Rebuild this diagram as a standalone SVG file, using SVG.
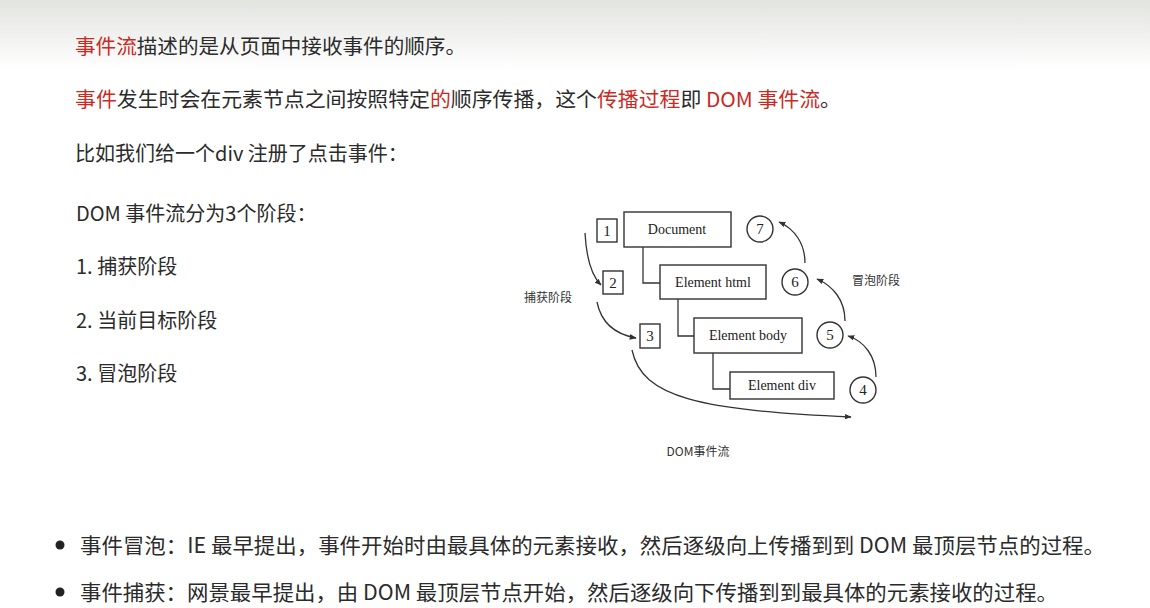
<svg xmlns="http://www.w3.org/2000/svg" width="1150" height="608" viewBox="0 0 1150 608">
<defs>
<linearGradient id="bg" x1="0" y1="0" x2="0" y2="1">
<stop offset="0" stop-color="#e2e4e0"/>
<stop offset="1" stop-color="#ffffff"/>
</linearGradient>
<marker id="ah" viewBox="0 0 10 10" refX="9" refY="5" markerWidth="7" markerHeight="7" markerUnits="userSpaceOnUse" orient="auto">
<path d="M0,1 L10,5 L0,9 Z" fill="#333"/>
</marker>
<style>
.t{font-family:"Noto Sans CJK SC","Noto Sans",sans-serif;font-size:20px;fill:#2b2b2b}
.r{fill:#cc2a1f}
.b{font-family:"Noto Sans CJK SC","Noto Sans",sans-serif;font-size:21px;fill:#2b2b2b}
.box{fill:#fff;stroke:#333;stroke-width:1.4}
.lbl{font-family:"Liberation Serif",serif;font-size:14px;fill:#222;text-anchor:middle}
.num{font-family:"Liberation Serif",serif;font-size:15px;fill:#222;text-anchor:middle}
.tree{fill:none;stroke:#333;stroke-width:1.3}
.arr{fill:none;stroke:#333;stroke-width:1.3;marker-end:url(#ah)}
.cap{font-family:"Noto Sans CJK SC",sans-serif;font-size:12px;fill:#333;text-anchor:middle}
</style>
</defs>
<rect x="0" y="0" width="1150" height="608" fill="#fff"/>
<rect x="0" y="0" width="1150" height="70" fill="url(#bg)"/>

<g id="text-intro">
<text class="t" x="75" y="54" textLength="391" lengthAdjust="spacingAndGlyphs"><tspan class="r">事件流</tspan>描述的是从页面中接收事件的顺序。</text>
<text class="t" x="75" y="107" textLength="766" lengthAdjust="spacingAndGlyphs"><tspan class="r">事件</tspan>发生时会在元素节点之间按照特定<tspan class="r">的</tspan>顺序传播，这个<tspan class="r">传播过程</tspan>即 <tspan class="r">DOM 事件流</tspan>。</text>
<text class="t" x="75" y="161">比如我们给一个div 注册了点击事件：</text>
<text class="t" x="76" y="221">DOM 事件流分为3个阶段：</text>
<text class="t" x="76" y="274">1. 捕获阶段</text>
<text class="t" x="76" y="328">2. 当前目标阶段</text>
<text class="t" x="76" y="381">3. 冒泡阶段</text>
</g>

<g id="connectors">
<path class="tree" d="M643,247 V283 H660"/>
<path class="tree" d="M678,299 V336 H694"/>
<path class="tree" d="M713,353 V389 H730"/>
<path class="arr" d="M585,233 Q587,271 601,285"/>
<path class="arr" d="M597,302 Q603,332 636,338"/>
<path class="arr" d="M632,350 C642,398 700,410 851,417"/>
<path class="arr" d="M876,377 C876,356 864,341 848,336"/>
<path class="arr" d="M845,321 C845,300 833,286 817,279"/>
<path class="arr" d="M805,263 C805,244 795,229 779,222"/>
</g>

<g id="node-document"><rect class="box" x="624" y="212" width="107" height="35"/><text class="lbl" x="677" y="234">Document</text></g>
<g id="node-html"><rect class="box" x="660" y="265" width="106" height="34"/><text class="lbl" x="713" y="287">Element html</text></g>
<g id="node-body"><rect class="box" x="694" y="318" width="108" height="35"/><text class="lbl" x="748" y="340">Element body</text></g>
<g id="node-div"><rect class="box" x="730" y="372" width="104" height="27"/><text class="lbl" x="782" y="390">Element div</text></g>

<g id="step-1"><rect class="box" x="597" y="219" width="20" height="23"/><text class="num" x="607" y="236">1</text></g>
<g id="step-2"><rect class="box" x="603" y="271" width="20" height="23"/><text class="num" x="613" y="288">2</text></g>
<g id="step-3"><rect class="box" x="640" y="324" width="20" height="24"/><text class="num" x="650" y="341">3</text></g>
<g id="step-4"><circle class="box" cx="863" cy="390" r="13"/><text class="num" x="863" y="395">4</text></g>
<g id="step-5"><circle class="box" cx="830" cy="335" r="13"/><text class="num" x="830" y="340">5</text></g>
<g id="step-6"><circle class="box" cx="795" cy="282" r="13"/><text class="num" x="795" y="287">6</text></g>
<g id="step-7"><circle class="box" cx="760" cy="229" r="13"/><text class="num" x="760" y="234">7</text></g>

<g id="labels">
<text class="cap" x="548" y="302">捕获阶段</text>
<text class="cap" x="876" y="285">冒泡阶段</text>
<text class="cap" x="698" y="456">DOM事件流</text>
</g>

<g id="bullets">
<circle cx="60" cy="545" r="4.5" fill="#222"/>
<text class="b" x="80" y="553" textLength="1025" lengthAdjust="spacingAndGlyphs">事件冒泡：IE 最早提出，事件开始时由最具体的元素接收，然后逐级向上传播到到 DOM 最顶层节点的过程。</text>
<circle cx="60" cy="592" r="4.5" fill="#222"/>
<text class="b" x="80" y="600" textLength="978" lengthAdjust="spacingAndGlyphs">事件捕获：网景最早提出，由 DOM 最顶层节点开始，然后逐级向下传播到到最具体的元素接收的过程。</text>
</g>
</svg>
